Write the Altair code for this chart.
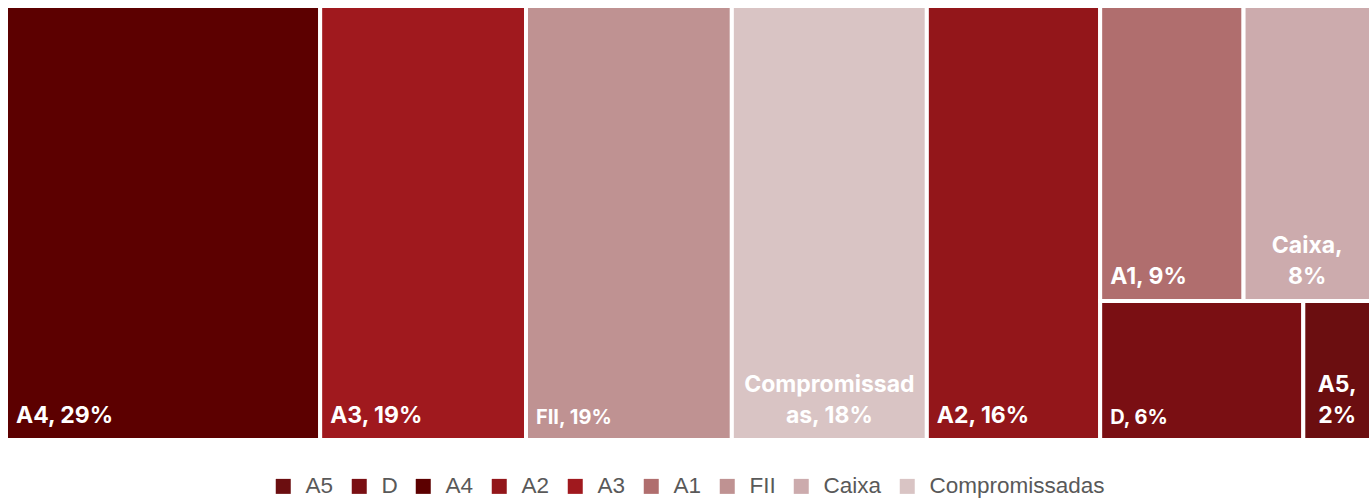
import altair as alt
import pandas as pd

# Allocation by asset class (share, %)
categories = ["A4", "A3", "FII", "Compromissadas", "A2", "A1", "Caixa", "D", "A5"]
values = [29, 19, 19, 18, 16, 9, 8, 6, 2]
# Nested slice layout: column index, and row index inside that column
columns = [0, 1, 2, 3, 4, 5, 5, 5, 5]
rows = [0, 0, 0, 0, 0, 0, 0, 1, 1]

legend_order = ["A5", "D", "A4", "A2", "A3", "A1", "FII", "Caixa", "Compromissadas"]
palette = {
    "A5": "#6b0e10",
    "D": "#7a0f13",
    "A4": "#5c0000",
    "A2": "#93161a",
    "A3": "#a0191e",
    "A1": "#b06e6e",
    "FII": "#bf9292",
    "Caixa": "#ccabad",
    "Compromissadas": "#d9c4c4",
}
# Where a label wraps onto a second line (character index)
wrap_at = {"Compromissadas": 12, "Caixa": 6, "A5": 3}
small_labels = ["FII", "D"]

df = pd.DataFrame({"cat": categories, "value": values, "col": columns, "row": rows})

# --- slice-and-dice layout: columns across, rows down, tiles across each row ---
col_sum = df.groupby("col")["value"].sum()
col_x0 = col_sum.cumsum() - col_sum
recs = []
for c, g in df.groupby("col", sort=True):
    csum = col_sum[c]
    row_sum = g.groupby("row")["value"].sum()
    row_y0 = (row_sum.cumsum() - row_sum) / csum
    for r, rg in g.groupby("row", sort=True):
        x = col_x0[c]
        rsum = row_sum[r]
        for _, t in rg.iterrows():
            w = t["value"] / rsum * csum
            recs.append({
                "cat": t["cat"],
                "value": t["value"],
                "x0": x,
                "x1": x + w,
                "y0": row_y0[r],
                "y1": row_y0[r] + rsum / csum,
            })
            x += w
tiles = pd.DataFrame(recs)
tiles["xc"] = (tiles["x0"] + tiles["x1"]) / 2


def make_label(cat, v):
    s = f"{cat}, {v}%"
    if cat in wrap_at:
        k = wrap_at[cat]
        return [s[:k].strip(), s[k:].strip()]
    return [s]


tiles["label"] = [make_label(c, v) for c, v in zip(tiles["cat"], tiles["value"])]
tiles["lines"] = tiles["label"].apply(len)
tiles["small"] = tiles["cat"].isin(small_labels)

total = float(sum(values))
xs = alt.Scale(domain=[0, total], nice=False, zero=False)
ys = alt.Scale(domain=[0, 1], nice=False, zero=False, reverse=True)

base = alt.Chart(tiles)

rects = base.mark_rect(stroke="white", strokeWidth=4).encode(
    x=alt.X("x0:Q", scale=xs, axis=None),
    x2="x1:Q",
    y=alt.Y("y0:Q", scale=ys, axis=None),
    y2="y1:Q",
    color=alt.Color(
        "cat:N",
        scale=alt.Scale(domain=legend_order, range=[palette[k] for k in legend_order]),
        legend=alt.Legend(
            title=None,
            orient="none",
            legendX=266,
            legendY=469,
            direction="horizontal",
            columns=9,
            symbolType="square",
            symbolSize=225,
            symbolStrokeWidth=0,
            labelFont="Liberation Sans",
            labelFontSize=22.5,
            labelColor="#595959",
            labelOffset=11,
            labelLimit=300,
            columnPadding=14,
            padding=0,
        ),
    ),
)

text_common = dict(font="Inter", fontWeight="bold", color="white", baseline="alphabetic", lineHeight=31)

single_big = base.transform_filter("datum.lines == 1 && !datum.small").mark_text(
    align="left", dx=10, dy=-17, fontSize=23, **text_common
).encode(x=alt.X("x0:Q", scale=xs), y=alt.Y("y1:Q", scale=ys), text="label")

single_small = base.transform_filter("datum.lines == 1 && datum.small").mark_text(
    align="left", dx=10, dy=-16, fontSize=20, **text_common
).encode(x=alt.X("x0:Q", scale=xs), y=alt.Y("y1:Q", scale=ys), text="label")

wrapped = base.transform_filter("datum.lines == 2").mark_text(
    align="center", dy=-48, fontSize=23, **text_common
).encode(x=alt.X("xc:Q", scale=xs), y=alt.Y("y1:Q", scale=ys), text="label")

chart = (
    alt.layer(rects, single_big, single_small, wrapped)
    .properties(
        width=1365,
        height=434,
        padding={"left": 6, "top": 6, "right": 1, "bottom": 60},
        autosize=alt.AutoSizeParams(type="none"),
    )
    .configure_view(stroke=None)
)

chart.save("out.html", embed_options={"renderer": "svg", "actions": False})
